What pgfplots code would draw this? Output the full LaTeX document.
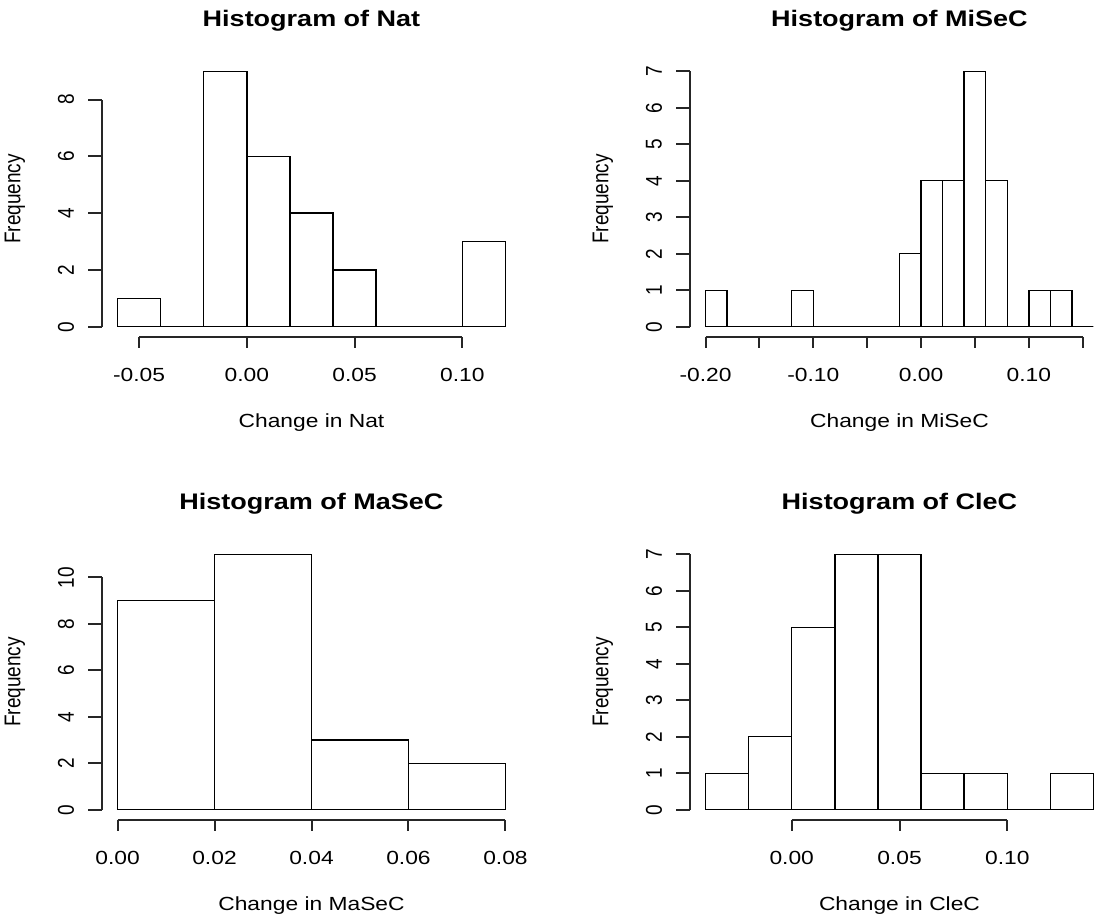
\documentclass[border=0pt]{standalone}
\usepackage{fontspec}
\setmainfont{Liberation Sans}
\usepackage{graphicx}
\usepackage{pgfplots}
\pgfplotsset{compat=1.18}

% R-like text: slightly wide lettering
\newcommand\htxt[1]{\scalebox{1.2}[1]{#1}}
\newcommand\vtxt[1]{\scalebox{1}[1.2]{#1}}

\tikzset{
  rline/.style={line width=2pt, draw=black!85},
  tl/.style={inner sep=0pt, font=\fontsize{19}{22}\selectfont},
  ttl/.style={inner sep=0pt, font=\fontsize{22.5}{26}\selectfont\bfseries},
}

\pgfplotsset{
  rpanel/.style={
    scale only axis, width=419pt, height=276pt,
    anchor=south west, hide axis, clip=false,
  },
  hbar/.style={ybar interval, draw=black, fill=white, line width=1.4pt},
}

% x tick: value, ymin, label
\newcommand\xt[3]{%
  \draw[rline] (axis cs:#1,#2) -- ([yshift=-11pt]axis cs:#1,#2);
  \if\relax\detokenize{#3}\relax\else
  \node[tl] at ([yshift=-38pt]axis cs:#1,#2) {\htxt{#3}};\fi}
% y tick: value, xmin, label
\newcommand\yt[3]{%
  \draw[rline] (axis cs:#2,#1) -- ([xshift=-14pt]axis cs:#2,#1);
  \node[tl, rotate=90] at ([xshift=-36pt]axis cs:#2,#1) {\vtxt{#3}};}
% title, x label and y label
\newcommand\decor[2]{%
  \node[ttl] at ([yshift=40pt]rel axis cs:0.5,1) {\htxt{#1}};
  \node[tl] at ([yshift=-86pt]rel axis cs:0.5,0) {\htxt{#2}};
  \node[tl, rotate=90] at ([xshift=-87pt]rel axis cs:0,0.5) {\vtxt{Frequency}};}

\begin{document}
\begin{tikzpicture}
\useasboundingbox (0,0) rectangle (1096pt,916pt);
\clip (0,0) rectangle (1096pt,916pt);

% ---- Nat ----
\begin{axis}[rpanel, at={(102pt,579pt)},
  xmin=-0.0672, xmax=0.1272, ymin=-0.36, ymax=9.36]
\addplot[hbar] coordinates {(-0.06,1) (-0.04,0) (-0.02,9) (0,6) (0.02,4)
  (0.04,2) (0.06,0) (0.08,0) (0.10,3) (0.12,3)};
\draw[rline] (axis cs:-0.05,-0.36) -- (axis cs:0.10,-0.36);
\draw[rline] (axis cs:-0.0672,0) -- (axis cs:-0.0672,8);
\xt{-0.05}{-0.36}{-0.05}
\xt{0}{-0.36}{0.00}
\xt{0.05}{-0.36}{0.05}
\xt{0.10}{-0.36}{0.10}
\yt{0}{-0.0672}{0}
\yt{2}{-0.0672}{2}
\yt{4}{-0.0672}{4}
\yt{6}{-0.0672}{6}
\yt{8}{-0.0672}{8}
\decor{Histogram of Nat}{Change in Nat}
\end{axis}

% ---- MiSeC ----
\begin{axis}[rpanel, at={(690pt,579pt)},
  xmin=-0.2144, xmax=0.1744, ymin=-0.28, ymax=7.28]
\addplot[hbar] coordinates {(-0.20,1) (-0.18,0) (-0.16,0) (-0.14,0) (-0.12,1)
  (-0.10,0) (-0.08,0) (-0.06,0) (-0.04,0) (-0.02,2) (0,4) (0.02,4) (0.04,7)
  (0.06,4) (0.08,0) (0.10,1) (0.12,1) (0.14,0) (0.16,0)};
\draw[rline] (axis cs:-0.20,-0.28) -- (axis cs:0.15,-0.28);
\draw[rline] (axis cs:-0.2144,0) -- (axis cs:-0.2144,7);
\xt{-0.20}{-0.28}{-0.20}
\xt{-0.15}{-0.28}{}
\xt{-0.10}{-0.28}{-0.10}
\xt{-0.05}{-0.28}{}
\xt{0}{-0.28}{0.00}
\xt{0.05}{-0.28}{}
\xt{0.10}{-0.28}{0.10}
\xt{0.15}{-0.28}{}
\yt{0}{-0.2144}{0}
\yt{1}{-0.2144}{1}
\yt{2}{-0.2144}{2}
\yt{3}{-0.2144}{3}
\yt{4}{-0.2144}{4}
\yt{5}{-0.2144}{5}
\yt{6}{-0.2144}{6}
\yt{7}{-0.2144}{7}
\decor{Histogram of MiSeC}{Change in MiSeC}
\end{axis}

% ---- MaSeC ----
\begin{axis}[rpanel, at={(102pt,96pt)},
  xmin=-0.0032, xmax=0.0832, ymin=-0.44, ymax=11.44]
\addplot[hbar] coordinates {(0,9) (0.02,11) (0.04,3) (0.06,2) (0.08,2)};
\draw[rline] (axis cs:0,-0.44) -- (axis cs:0.08,-0.44);
\draw[rline] (axis cs:-0.0032,0) -- (axis cs:-0.0032,10);
\xt{0}{-0.44}{0.00}
\xt{0.02}{-0.44}{0.02}
\xt{0.04}{-0.44}{0.04}
\xt{0.06}{-0.44}{0.06}
\xt{0.08}{-0.44}{0.08}
\yt{0}{-0.0032}{0}
\yt{2}{-0.0032}{2}
\yt{4}{-0.0032}{4}
\yt{6}{-0.0032}{6}
\yt{8}{-0.0032}{8}
\yt{10}{-0.0032}{10}
\decor{Histogram of MaSeC}{Change in MaSeC}
\end{axis}

% ---- CleC ----
\begin{axis}[rpanel, at={(690pt,96pt)},
  xmin=-0.0472, xmax=0.1472, ymin=-0.28, ymax=7.28]
\addplot[hbar] coordinates {(-0.04,1) (-0.02,2) (0,5) (0.02,7) (0.04,7)
  (0.06,1) (0.08,1) (0.10,0) (0.12,1) (0.14,1)};
\draw[rline] (axis cs:0,-0.28) -- (axis cs:0.10,-0.28);
\draw[rline] (axis cs:-0.0472,0) -- (axis cs:-0.0472,7);
\xt{0}{-0.28}{0.00}
\xt{0.05}{-0.28}{0.05}
\xt{0.10}{-0.28}{0.10}
\yt{0}{-0.0472}{0}
\yt{1}{-0.0472}{1}
\yt{2}{-0.0472}{2}
\yt{3}{-0.0472}{3}
\yt{4}{-0.0472}{4}
\yt{5}{-0.0472}{5}
\yt{6}{-0.0472}{6}
\yt{7}{-0.0472}{7}
\decor{Histogram of CleC}{Change in CleC}
\end{axis}
\end{tikzpicture}
\end{document}
